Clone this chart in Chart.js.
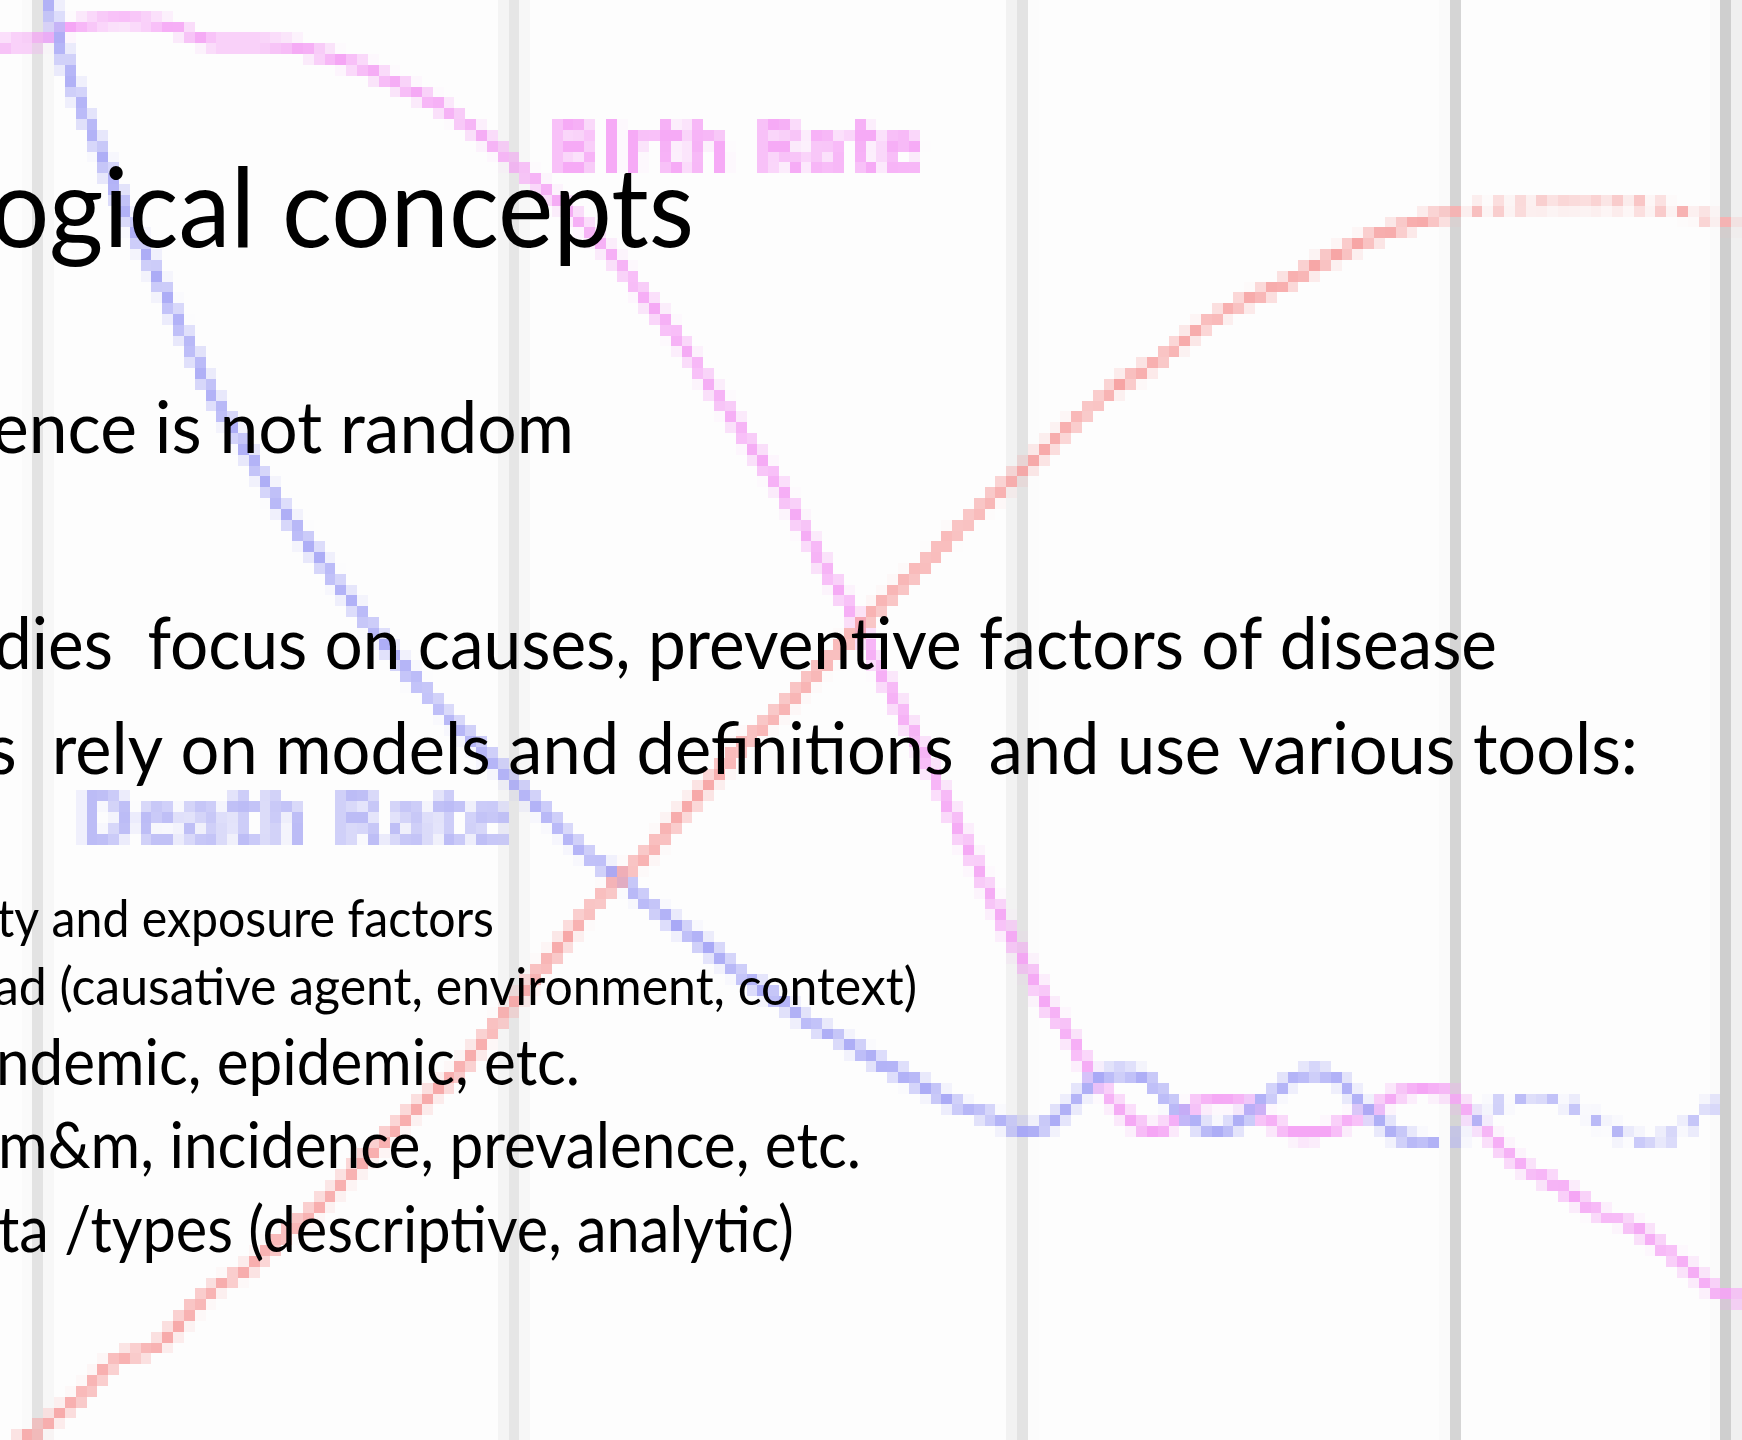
<!DOCTYPE html>
<html>
<head>
<meta charset="utf-8">
<script src="https://cdn.jsdelivr.net/npm/chart.js@4.4.1/dist/chart.umd.min.js"></script>
<style>
  html, body { margin: 0; padding: 0; background: #fdfdfd; overflow: hidden; }
  #wrap { position: relative; width: 1742px; height: 1440px; }
  #chart { position: absolute; left: 0; top: 0; width: 1742px; height: 1440px; image-rendering: pixelated; }
  #slide { position: absolute; left: 0; top: 0; }
</style>
</head>
<body>
<div id="wrap">
  <canvas id="chart" width="1742" height="1440"></canvas>
  <canvas id="slide" width="1742" height="1440"></canvas>
</div>
<script>
// demographic transition background (time on x, rate on y)
const stageTimes = [4.2, 51.1, 101.8, 144.9, 172.3];

const birthTime = [0, 4, 7, 12, 17.5, 20.5, 25, 29, 32, 35.7, 38.4, 41.5, 45, 48, 50.6, 53.1, 56, 58.7, 62, 65.3,
  69.5, 73.7, 78, 82.2, 85.3, 89.5, 91.7, 96, 100, 103, 104.7, 106.3, 107.5, 108.5, 109.6, 110.7, 112.2, 114, 115.3,
  116.8, 118.5, 120, 122.2, 124.5, 125.8, 127, 129, 131, 133.5, 135, 137.5, 139.2, 142, 144.7, 146, 147.5, 149.5,
  151.7, 154.3, 157, 160.2, 163.2, 166, 168.5, 171.2, 174.2];
const birthRate = [139.5, 140, 141.2, 142, 141.2, 140, 139.7, 139.4, 138.7, 137.5, 136.3, 134.8, 132.8, 130.7, 128.5,
  126.2, 123.8, 121.3, 117.5, 113.3, 107.8, 101.5, 95.2, 87.8, 82.5, 74.2, 70, 61, 52.5, 47, 43.5, 41.5, 39.5, 37.8,
  36.2, 34.7, 33, 31.5, 31, 31.5, 32.8, 34, 34.2, 34, 33, 31.8, 31, 30.8, 31.2, 32.2, 33.2, 34.5, 35.2, 35, 33.8, 32,
  30, 27.8, 26.3, 24.7, 22.7, 21.5, 19.5, 17.5, 15.3, 14];

const deathTime = [4.6, 5, 5.5, 6.2, 7.5, 10, 12.5, 14.7, 16.8, 18.9, 21, 24.2, 26.3, 30.5, 34.7, 39, 43.2, 47.3, 52.7,
  55.8, 59, 62.2, 65.3, 68.5, 71.5, 73.8, 77, 80, 83.3, 87.3, 92.7, 96.8, 99, 100.5, 103, 105, 106.5, 108.5, 109.7,
  112, 114.8, 116, 117.2, 119.2, 121.5, 124.2, 126.5, 128, 129.2, 131.5, 133.8, 135, 136, 138, 139.5, 142.5, 145,
  146.8, 149, 152.2, 155.3, 158.6, 161.7, 164.8, 168, 170.7, 172];
const deathRate = [145, 143.5, 141.5, 139, 135, 129, 123, 118.5, 114, 109.5, 105, 99.7, 96.2, 90, 84.5, 79, 74.2, 70,
  64.7, 61.5, 58.3, 56.2, 53.2, 51, 48.8, 46.8, 44.7, 42.5, 40.5, 38.3, 35.3, 33.2, 32.5, 31.8, 31, 31.8, 33, 35.2,
  36.3, 36.8, 36.2, 35, 33.8, 32, 31, 32, 34.2, 35.3, 36.2, 36.8, 36.2, 35, 33.8, 32, 30.7, 29.9, 30, 31.2, 33.2,
  34.2, 34.2, 32.7, 31, 29.9, 31, 33.1, 34];

const popTime = [1, 3.3, 7.5, 11.7, 15.6, 20, 25.5, 32.1, 36.7, 42, 46.7, 49.5, 54.7, 60, 65.2, 70, 74.7, 79, 83.2,
  87.3, 91.5, 95.8, 100.2, 105.3, 110.7, 115.8, 121, 127.5, 133.7, 140, 144.7, 149, 156, 162.5, 169, 174.2];
const popSize = [-0.5, 0.7, 4, 8, 9.5, 14, 17.9, 23.7, 28.4, 33.5, 37.9, 41.5, 47.8, 54.2, 59.3, 64.7, 70, 74, 78.3,
  82.7, 86.8, 91, 95.2, 99.7, 104.7, 107.8, 112, 115.3, 118.5, 121.2, 122.7, 123.2, 123.7, 123.7, 122.7, 121.2];

const curveLabels = ['Birth Rate', 'Death Rate', 'Population'];

const toPoints = (xs, ys) => xs.map((x, i) => ({x, y: ys[i]}));

// low resolution render, blown up with blocky pixels
const PIXEL = 161 / 1742;

const bandColors = [
  ['#dcdcdc', '#f6f6f6'],
  ['#f1f1f1', '#e1e1e1'],
  ['#f1f1f1', '#e1e1e1'],
  ['#fdfdfd', '#d0d0d0'],
  ['#f9f9f9', '#c1c1c1']
];

const stagePlugin = {
  id: 'stages',
  beforeDatasetsDraw(chart) {
    const {ctx, chartArea, scales: {x}} = chart;
    ctx.save();
    stageTimes.forEach((t, i) => {
      const px = x.getPixelForValue(t);
      ctx.fillStyle = bandColors[i][0];
      ctx.fillRect(px - 10.5, chartArea.top, 10.5, chartArea.bottom - chartArea.top);
      ctx.fillStyle = bandColors[i][1];
      ctx.fillRect(px, chartArea.top, 10.5, chartArea.bottom - chartArea.top);
    });
    ctx.restore();
  }
};

const labelPlugin = {
  id: 'curveLabels',
  afterDatasetsDraw(chart) {
    const {ctx, scales: {x, y}} = chart;
    ctx.save();
    ctx.font = 'bold 75px "DejaVu Sans"';
    ctx.textBaseline = 'alphabetic';
    ctx.fillStyle = '#f6aaf6';
    ctx.fillText(curveLabels[0], x.getPixelForValue(55), y.getPixelForValue(126.2), 374);
    ctx.fillStyle = '#bcbcf6';
    ctx.fillText(curveLabels[1], x.getPixelForValue(7.8), y.getPixelForValue(59.9), 433);
    ctx.restore();
  }
};

// the far right of the old picture is broken up
const fadeAfter = (t, strong, faint) => c => (c.p0.parsed.x >= t ? faint : strong);

new Chart(document.getElementById('chart'), {
  type: 'line',
  data: {
    datasets: [
      {label: curveLabels[2], data: toPoints(popTime, popSize), borderColor: '#f7a4a4',
        segment: {borderColor: fadeAfter(144, '#f7a4a4', '#f7b2b2'), borderDash: c => (c.p0.parsed.x >= 144 ? [14, 9] : undefined)}},
      {label: curveLabels[1], data: toPoints(deathTime, deathRate), borderColor: '#a9a9f6',
        segment: {borderColor: fadeAfter(142, '#a9a9f6', '#b2b2f6'), borderDash: c => (c.p0.parsed.x >= 142 ? [14, 12] : undefined)}},
      {label: curveLabels[0], data: toPoints(birthTime, birthRate), borderColor: '#f5a6f5'}
    ]
  },
  options: {
    responsive: false,
    animation: false,
    devicePixelRatio: PIXEL,
    layout: {padding: 0},
    elements: {
      point: {radius: 0},
      line: {borderWidth: 11, cubicInterpolationMode: 'monotone', fill: false}
    },
    scales: {
      x: {type: 'linear', min: 0, max: 174.2, display: false},
      y: {type: 'linear', min: 0, max: 144, display: false}
    },
    plugins: {legend: {display: false}, tooltip: {enabled: false}}
  },
  plugins: [stagePlugin, labelPlugin]
});

// slide text on top, crisp
const slideLines = [
  {text: 'ogical concepts', size: 110, left: -10, right: 694, base: 247},
  {text: 'ence is not random', size: 72, left: -8, right: 574, base: 453},
  {text: 'dies  focus on causes, preventive factors of disease', size: 72, left: -6, right: 1497, base: 669},
  {text: 's  rely on models and definitions  and use various tools:', size: 72, left: -13, right: 1638, base: 774},
  {text: 'ty and exposure factors', size: 53, left: -3, right: 494, base: 937},
  {text: 'ad (causative agent, environment, context)', size: 53, left: -6, right: 917, base: 1005},
  {text: 'ndemic, epidemic, etc.', size: 63, left: -4, right: 580, base: 1085},
  {text: 'm&m, incidence, prevalence, etc.', size: 63, left: -2, right: 861, base: 1168},
  {text: 'ta /types (descriptive, analytic)', size: 63, left: -2, right: 794, base: 1252}
];

const sctx = document.getElementById('slide').getContext('2d');
sctx.fillStyle = '#000';
sctx.textBaseline = 'alphabetic';
slideLines.forEach(l => {
  sctx.font = l.size + 'px Lato';
  const w = sctx.measureText(l.text).width;
  sctx.save();
  sctx.translate(l.left, l.base);
  sctx.scale((l.right - l.left) / w, 1);
  sctx.fillText(l.text, 0, 0);
  sctx.restore();
});
</script>
</body>
</html>
